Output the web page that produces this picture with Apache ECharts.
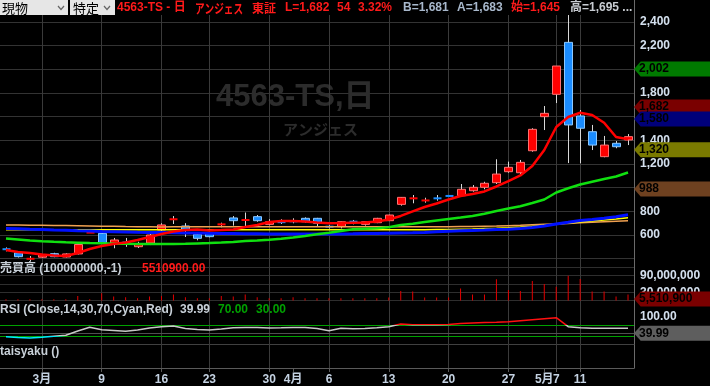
<!DOCTYPE html>
<html><head><meta charset="utf-8">
<script src="https://cdn.jsdelivr.net/npm/echarts@6/dist/echarts.min.js"></script>
<style>html,body{margin:0;padding:0;background:#000;}#c{width:710px;height:386px;}</style>
</head><body><div id="c"></div>
<script>
// ---------- DATA ----------
const dates = ['2/26','2/27','2/28','3/2','3/3','3/4','3/5','3/6','3/9','3/10','3/11','3/12','3/13','3/16','3/17','3/18','3/19','3/23','3/24','3/25','3/26','3/27','3/30','3/31','4/1','4/2','4/3','4/6','4/7','4/8','4/9','4/10','4/13','4/14','4/15','4/16','4/17','4/20','4/21','4/22','4/23','4/24','4/27','4/28','4/30','5/1','5/7','5/8','5/11','5/12','5/13','5/14','5/15'];
const opens  = [490,450,398,412,442,414,440,620,614,530,543,501,532,642,731,676,606,616,688,744,725,755,690,718,721,741,741,679,670,718,690,704,721,859,908,882,918,932,932,974,1003,1042,1135,1126,1312,1600,1789,2228,1606,1473,1262,1375,1403];
const closes = [470,417,400,434,417,440,520,620,535,558,530,524,600,685,735,648,572,586,692,721,729,721,712,699,710,712,699,662,712,707,712,741,769,918,912,902,902,928,986,1003,1037,1115,1172,1214,1493,1628,2028,1530,1502,1360,1360,1346,1431];
const lows   = [462,410,380,405,412,410,436,620,530,488,500,490,515,619,693,583,555,580,665,679,676,712,682,693,699,704,676,655,656,690,679,700,718,848,868,873,890,925,924,966,986,1031,1126,1115,1304,1487,1715,1208,1206,1318,1257,1333,1360];
const highs  = [495,455,422,440,450,445,520,620,615,575,575,543,614,699,760,700,615,622,704,760,790,769,733,733,741,749,745,685,715,727,715,745,772,920,938,915,938,938,1031,1022,1050,1240,1220,1234,1502,1690,2028,2459,1656,1530,1437,1394,1453];
const volumes = [4.8,4.8,4.8,4.8,4.8,4.8,16.8,4.8,26.5,14.4,12,8.4,14.4,16.8,21.7,12,8.4,8.4,16.8,14.4,21.7,12,8.4,8.4,12,8.4,8.4,8.4,8.4,8.4,8.4,8.4,10.8,34.9,32.5,10.8,10.8,10.8,43.3,21.7,21.7,77,38.5,34.9,71,60.2,50.5,90,78,32.5,32.5,14.4,21.7].map(v => v * 1e6);
const maRed    = [473,456,448,435,427,423,448,482,507,524,537,558,583,609,630,642,647,638,642,647,668,685,710,718,718,714,706,699,701,704,706,714,731,761,799,837,866,900,930,946,968,1010,1056,1103,1183,1318,1513,1597,1633,1614,1549,1428,1409];
const maGreen  = [570,562,553,547,542,538,535,532,530,527,526,524,524,524,524,526,529,532,536,541,549,553,560,568,579,592,606,619,634,648,653,657,665,684,695,709,722,735,747,760,779,803,824,843,870,900,959,995,1027,1050,1073,1094,1128];
const maBlue   = [655,652,649,647,643,640,636,634,629,627,625,623,622,621,619,617,616,614,613,612,611,610,609,608,608,608,608,608,609,610,612,613,615,617,619,622,627,632,636,639,642,646,649,654,663,676,693,707,722,731,741,754,771];
const maYellow = [645,645,645,645,645,645,645,645,645,645,645,645,645,645,645,645,645,645,645,645,645,645,645,645,645,645,645,645,645,645,645,645,645,645,645,645,646,647,649,651,654,657,661,667,674,682,692,701,710,718,726,735,745];
const maOrange = [685,684,683,682,681,680,679,677,675,673,671,670,669,668,669,669,669,669,669,669,669,669,669,669,669,669,669,669,669,669,669,669,669,669,669,669,669,670,671,672,674,676,679,682,686,690,694,698,703,707,712,716,720];
const rsi = [27.5,24.5,22.7,25.3,28.9,32.5,48,61.6,52.5,50,47.5,51.8,59,63.8,66.4,57.3,53.6,51.8,55.5,59.8,60.5,60.9,59,59.8,60.9,60.9,57.3,49.3,58,56.2,57.3,59.8,63.8,73.6,71,70.5,71,71.5,75.8,77.3,78.7,80.2,82,85.6,89.3,92.9,96.5,63.8,59.8,58.5,58,58,58];
const xTickDates  = ['3/2','3/9','3/16','3/23','3/30','4/1','4/6','4/13','4/20','4/27','5/1','5/7','5/11'];
const xTickLabels = ['3月','9','16','23','30','4月','6','13','20','27','5月','7','11'];
const weekStarts  = ['3/2','3/9','3/16','3/23','3/30','4/6','4/13','4/20','4/27','5/7','5/11'];
const volTickValues = [30000000, 90000000];
const rsiTickValues = [100];
const rsiLevels = [70, 30];
const priceMarkerValues = [2002, 1682, 1580, 1320, 988];
const volMarkerValue = 5510900;
const rsiMarkerValue = 39.99;

// ---------- STYLE ----------
const F = '"Liberation Sans","Noto Sans CJK JP",sans-serif';
const FJ = '"Noto Sans CJK JP","Liberation Sans",sans-serif';
const priceMarkerColors = ['#007a00', '#7a0000', '#00007a', '#7a7a00', '#6e4120'];
const axisTxt = '#d4e0ee';
const L = -3, R = 76;
const last = dates[dates.length - 1];
const fmtNum = v => Number(v).toLocaleString('en-US');
const arrow = 'path://M0,8L7,0L80,0L80,16L7,16Z';
function marker(value, text, bg) {
  return {
    coord: [last, value], value: value,
    symbol: arrow, symbolSize: [76, 15], symbolKeepAspect: false, symbolOffset: [44, 0],
    itemStyle: { color: bg },
    label: { show: true, position: 'insideLeft', distance: 5, formatter: text, color: '#000', textBorderWidth: 0, fontWeight: 'bold', fontSize: 12, fontFamily: F }
  };
}

const chart = echarts.init(document.getElementById('c'), null, { renderer: 'canvas', width: 710, height: 386 });

const option = {
  backgroundColor: '#000',
  animation: false,
  grid: [
    { left: L, right: R, top: 0, bottom: 18 },
    { left: L, right: R, top: 22, bottom: 127.33 },
    { left: L, right: R, top: 267.4, bottom: 85.4 },
    { left: L, right: R, top: 316.75, bottom: 41.75 }
  ],
  xAxis: [
    { type: 'category', gridIndex: 0, data: dates, boundaryGap: true,
      axisLine: { show: true, lineStyle: { color: '#5a5a5a' } },
      axisTick: { show: true, alignWithLabel: true, length: 4, interval: (i, v) => xTickDates.includes(v), lineStyle: { color: '#5a5a5a' } },
      axisLabel: { interval: (i, v) => xTickDates.includes(v), formatter: v => xTickLabels[xTickDates.indexOf(v)] || '',
        color: '#c4d2e2', fontWeight: 'bold', fontSize: 12, fontFamily: F, margin: 6 },
      splitLine: { show: false } },
    { type: 'category', gridIndex: 1, data: dates, boundaryGap: true, show: false },
    { type: 'category', gridIndex: 2, data: dates, boundaryGap: true, show: false },
    { type: 'category', gridIndex: 3, data: dates, boundaryGap: true,
      axisLine: { show: true, lineStyle: { color: '#404040' } }, axisTick: { show: false }, axisLabel: { show: false } }
  ],
  yAxis: [
    { type: 'value', gridIndex: 0, min: 0, max: 1, position: 'right',
      axisLine: { show: true, lineStyle: { color: '#6a6a6a' } }, axisTick: { show: false }, axisLabel: { show: false }, splitLine: { show: false } },
    { type: 'value', gridIndex: 1, min: 400, max: 2400, interval: 200, position: 'right',
      axisLine: { show: false }, axisTick: { show: false },
      axisLabel: { showMinLabel: false, formatter: fmtNum, color: axisTxt, fontWeight: 'bold', fontSize: 12, fontFamily: F, margin: 6 },
      splitLine: { show: true, lineStyle: { color: '#333' } } },
    { type: 'value', gridIndex: 2, min: 0, max: 120000000, interval: 30000000, position: 'right',
      axisLine: { show: false }, axisTick: { show: false },
      axisLabel: { formatter: v => volTickValues.includes(v) ? fmtNum(v) : '', color: axisTxt, fontWeight: 'bold', fontSize: 12, fontFamily: F, margin: 6 },
      splitLine: { show: true, lineStyle: { color: '#2e2e2e' } } },
    { type: 'value', gridIndex: 3, min: 0, max: 100, interval: 100, position: 'right',
      axisLine: { show: false }, axisTick: { show: false },
      axisLabel: { formatter: v => rsiTickValues.includes(v) ? v.toFixed(2) : '', color: axisTxt, fontWeight: 'bold', fontSize: 12, fontFamily: F, margin: 6 },
      splitLine: { show: false } }
  ],
  visualMap: [{
    show: false, type: 'piecewise', seriesIndex: 9, dimension: 1,
    pieces: [{ lt: 30, color: '#00e8ff' }, { gte: 30, lte: 70, color: '#c8c8c8' }, { gt: 70, color: '#ff1010' }]
  }],
  series: [
    { type: 'line', xAxisIndex: 0, yAxisIndex: 0, data: dates.map(() => null), silent: true, z: 1,
      markLine: { z: 1, silent: true, symbol: ['none', 'none'], label: { show: false }, animation: false,
        lineStyle: { color: '#3a3a3a', width: 1, type: 'solid' }, data: weekStarts.map(d => ({ xAxis: d })) } },
    { type: 'custom', xAxisIndex: 1, yAxisIndex: 1, clip: false, z: 3,
      data: dates.map((d, i) => [i, opens[i], closes[i], lows[i], highs[i]]),
      encode: { x: 0, y: [1, 2, 3, 4] },
      renderItem: function (params, api) {
        const i = api.value(0), o = api.value(1), c = api.value(2), lo = api.value(3), hi = api.value(4);
        const up = c >= o;
        const pO = api.coord([i, o]), pC = api.coord([i, c]), pL = api.coord([i, lo]), pH = api.coord([i, hi]);
        const x = Math.round(pO[0]) + 0.5;
        const w = 8;
        const top = Math.min(pO[1], pC[1]), bot = Math.max(pO[1], pC[1]);
        const fill = up ? '#ff0000' : '#1a8cff';
        const border = up ? '#ff7070' : '#8cc8ff';
        const children = [
          { type: 'line', z2: 1, shape: { x1: x, y1: pH[1], x2: x, y2: pL[1] }, style: { stroke: '#d8d8d8', lineWidth: 1 } }
        ];
        if (bot - top < 2.5) {
          children.push({ type: 'line', z2: 2, shape: { x1: x - w / 2, y1: (top + bot) / 2, x2: x + w / 2, y2: (top + bot) / 2 }, style: { stroke: fill, lineWidth: 2 } });
        } else {
          children.push({ type: 'rect', z2: 2, shape: { x: x - w / 2, y: top, width: w, height: bot - top }, style: { fill: fill, stroke: border, lineWidth: 1 } });
        }
        return { type: 'group', children: children };
      } },
    { type: 'line', xAxisIndex: 1, yAxisIndex: 1, data: maOrange, showSymbol: false, z: 4, lineStyle: { color: '#f0a050', width: 1.5 } },
    { type: 'line', xAxisIndex: 1, yAxisIndex: 1, data: maYellow, showSymbol: false, z: 4, lineStyle: { color: '#ffff00', width: 1.5 } },
    { type: 'line', xAxisIndex: 1, yAxisIndex: 1, data: maBlue, showSymbol: false, z: 4, lineStyle: { color: '#0010ff', width: 3 } },
    { type: 'line', xAxisIndex: 1, yAxisIndex: 1, data: maGreen, showSymbol: false, z: 4, lineStyle: { color: '#10e010', width: 2.5 } },
    { type: 'line', xAxisIndex: 1, yAxisIndex: 1, data: maRed, showSymbol: false, z: 4, lineStyle: { color: '#ff0000', width: 2.5 } },
    { type: 'line', xAxisIndex: 1, yAxisIndex: 1, data: dates.map(() => null), z: 6, silent: true,
      markPoint: { z: 6, silent: true, animation: false, data: priceMarkerValues.map((v, k) => marker(v, fmtNum(v), priceMarkerColors[k])) } },
    { type: 'bar', xAxisIndex: 2, yAxisIndex: 2, data: volumes, barWidth: 1, itemStyle: { color: '#e00000' }, z: 3,
      markPoint: { z: 6, silent: true, animation: false, data: [marker(volMarkerValue, fmtNum(volMarkerValue), '#7a0000')] } },
    { type: 'line', xAxisIndex: 3, yAxisIndex: 3, data: rsi, showSymbol: false, z: 4, lineStyle: { width: 1.5 },
      markLine: { z: 2, silent: true, symbol: ['none', 'none'], label: { show: false }, animation: false,
        data: [
          { yAxis: rsiLevels[0], lineStyle: { color: '#00a000', width: 1, type: 'solid' } },
          { yAxis: rsiLevels[1], lineStyle: { color: '#00a000', width: 1, type: 'solid' } },
          { yAxis: rsiMarkerValue, lineStyle: { color: '#505050', width: 1, type: 'solid' } }
        ] },
      markPoint: { z: 6, silent: true, animation: false, data: [marker(rsiMarkerValue, rsiMarkerValue.toFixed(2), '#5e5e5e')] } }
  ],
  graphic: [
    // watermark
    { type: 'text', z: 1, left: 216, top: 82, style: { text: '4563-TS,日', fill: '#2c2c2c', font: 'bold 31px ' + F } },
    { type: 'text', z: 1, left: 283, top: 122, style: { text: 'アンジェス', fill: '#2c2c2c', font: 'bold 15px ' + FJ } },
    // header
    { type: 'rect', z: 100, shape: { x: 0, y: 0, width: 634, height: 15 }, style: { fill: '#000' } },
    { type: 'rect', z: 101, shape: { x: 0, y: 0, width: 68, height: 15 }, style: { fill: '#e6e6e6' } },
    { type: 'rect', z: 101, shape: { x: 70, y: 0, width: 45, height: 15 }, style: { fill: '#e6e6e6' } },
    { type: 'text', z: 102, x: 2, y: 8, style: { text: '現物', fill: '#000', font: '13px ' + FJ, verticalAlign: 'middle' } },
    { type: 'text', z: 102, x: 73, y: 8, style: { text: '特定', fill: '#000', font: '13px ' + FJ, verticalAlign: 'middle' } },
    { type: 'polyline', z: 102, shape: { points: [[58, 6], [61, 9.5], [64, 6]] }, style: { stroke: '#666', lineWidth: 1.2, fill: null } },
    { type: 'polyline', z: 102, shape: { points: [[104, 6], [107, 9.5], [110, 6]] }, style: { stroke: '#666', lineWidth: 1.2, fill: null } },
    { type: 'text', z: 102, x: 117, y: 8, style: { text: '4563-TS - 日', fill: '#ff1a1a', font: 'bold 12px ' + F, verticalAlign: 'middle' } },
    { type: 'text', z: 102, x: 195, y: 8, scaleX: 0.74, style: { text: 'アンジェス', fill: '#ff1a1a', font: 'bold 13px ' + FJ, verticalAlign: 'middle' } },
    { type: 'text', z: 102, x: 252, y: 8, style: { text: '東証', fill: '#ff1a1a', font: 'bold 12px ' + FJ, verticalAlign: 'middle' } },
    { type: 'text', z: 102, x: 285, y: 8, style: { text: 'L=1,682', fill: '#ff1a1a', font: 'bold 12px ' + F, verticalAlign: 'middle' } },
    { type: 'text', z: 102, x: 337, y: 8, style: { text: '54', fill: '#ff1a1a', font: 'bold 12px ' + F, verticalAlign: 'middle' } },
    { type: 'text', z: 102, x: 358, y: 8, style: { text: '3.32%', fill: '#ff1a1a', font: 'bold 12px ' + F, verticalAlign: 'middle' } },
    { type: 'text', z: 102, x: 403, y: 8, style: { text: 'B=1,681', fill: '#a8b8cc', font: 'bold 12px ' + F, verticalAlign: 'middle' } },
    { type: 'text', z: 102, x: 457, y: 8, style: { text: 'A=1,683', fill: '#a8b8cc', font: 'bold 12px ' + F, verticalAlign: 'middle' } },
    { type: 'text', z: 102, x: 511, y: 8, style: { text: '始=1,645', fill: '#ff1a1a', font: 'bold 12px ' + F, verticalAlign: 'middle' } },
    { type: 'text', z: 102, x: 570, y: 8, style: { text: '高=1,695 ...', fill: '#c8ccd2', font: 'bold 12px ' + F, verticalAlign: 'middle' } },
    // panel titles
    { type: 'text', z: 102, x: 0, y: 269, style: { text: '売買高 (100000000,-1)', fill: '#c8d0d8', font: 'bold 12px ' + F, verticalAlign: 'middle' } },
    { type: 'text', z: 102, x: 142, y: 269, style: { text: '5510900.00', fill: '#ff1a1a', font: 'bold 12px ' + F, verticalAlign: 'middle' } },
    { type: 'text', z: 102, x: 0, y: 310, style: { text: 'RSI (Close,14,30,70,Cyan,Red)', fill: '#c8d0d8', font: 'bold 12px ' + F, verticalAlign: 'middle' } },
    { type: 'text', z: 102, x: 180, y: 310, style: { text: '39.99', fill: '#c8d0d8', font: 'bold 12px ' + F, verticalAlign: 'middle' } },
    { type: 'text', z: 102, x: 218, y: 310, style: { text: '70.00', fill: '#00a000', font: 'bold 12px ' + F, verticalAlign: 'middle' } },
    { type: 'text', z: 102, x: 256, y: 310, style: { text: '30.00', fill: '#00a000', font: 'bold 12px ' + F, verticalAlign: 'middle' } },
    { type: 'text', z: 102, x: 0, y: 352, style: { text: 'taisyaku ()', fill: '#c8d0d8', font: 'bold 12px ' + F, verticalAlign: 'middle' } }
  ]
};
chart.setOption(option);
</script></body></html>
